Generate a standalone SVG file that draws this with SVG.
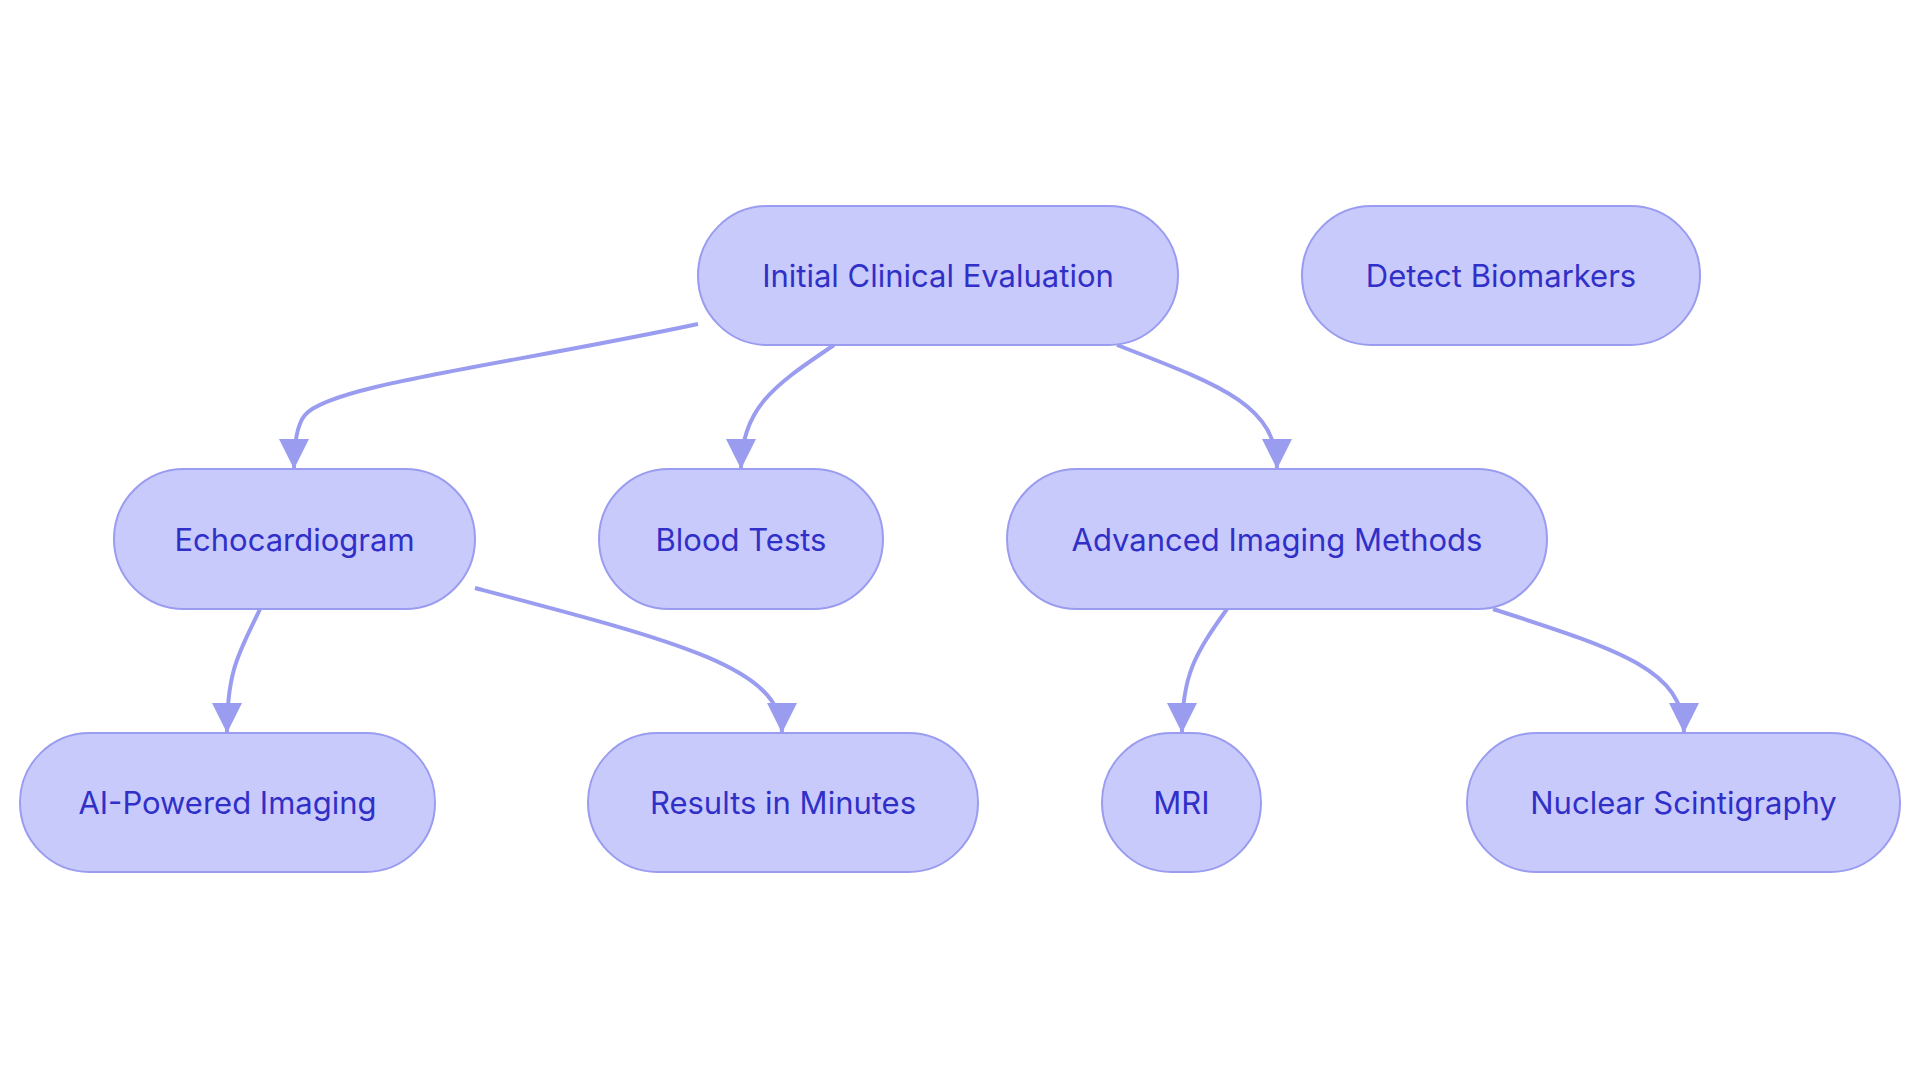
<svg xmlns="http://www.w3.org/2000/svg" width="1920" height="1083" viewBox="0 0 1920 1083">
<style>
.n rect{fill:#c9cafc;stroke:#9a9cf0;stroke-width:2}
.n text{font-family:Inter,"Liberation Sans",sans-serif;font-size:31px;fill:#3030c8;text-anchor:middle;dominant-baseline:central}
.e path{fill:none;stroke:#9a9cf0;stroke-width:4;marker-end:url(#a)}
</style>
<defs><marker id="a" viewBox="0 0 10 10" refX="10" refY="5" markerWidth="30" markerHeight="30" markerUnits="userSpaceOnUse" orient="auto"><path d="M0,0 L10,5 L0,10 z" fill="#9a9cf0"/></marker></defs>
<rect width="1920" height="1083" fill="#fff"/>
<g class="e">
<path d="M698,324 C500,366 330,385 305,415 Q294,428 294,469"/>
<path d="M834,345 C780,382 741,405 741,469"/>
<path d="M1117,345 C1220,385 1277,405 1277,469"/>
<path d="M260,609 C240,652 227,668 227,733"/>
<path d="M475,588 C680,642 782,668 782,733"/>
<path d="M1227,609 C1195,654 1182,675 1182,733"/>
<path d="M1493,609 C1620,650 1684,670 1684,733"/>
</g>
<g id="init" class="n"><rect x="698" y="206" width="480" height="139" rx="69.5"/><text x="938" y="275">Initial Clinical Evaluation</text></g>
<g id="detect" class="n"><rect x="1302" y="206" width="398" height="139" rx="69.5"/><text x="1501" y="275">Detect Biomarkers</text></g>
<g id="echo" class="n"><rect x="114" y="469" width="361" height="140" rx="70"/><text x="294.5" y="539">Echocardiogram</text></g>
<g id="blood" class="n"><rect x="599" y="469" width="284" height="140" rx="70"/><text x="741" y="539">Blood Tests</text></g>
<g id="adv" class="n"><rect x="1007" y="469" width="540" height="140" rx="70"/><text x="1277" y="539">Advanced Imaging Methods</text></g>
<g id="ai" class="n"><rect x="20" y="733" width="415" height="139" rx="69.5"/><text x="227.5" y="802">AI-Powered Imaging</text></g>
<g id="res" class="n"><rect x="588" y="733" width="390" height="139" rx="69.5"/><text x="783" y="802">Results in Minutes</text></g>
<g id="mri" class="n"><rect x="1102" y="733" width="159" height="139" rx="69.5"/><text x="1181.5" y="802">MRI</text></g>
<g id="nuc" class="n"><rect x="1467" y="733" width="433" height="139" rx="69.5"/><text x="1683.5" y="802">Nuclear Scintigraphy</text></g>
</svg>
